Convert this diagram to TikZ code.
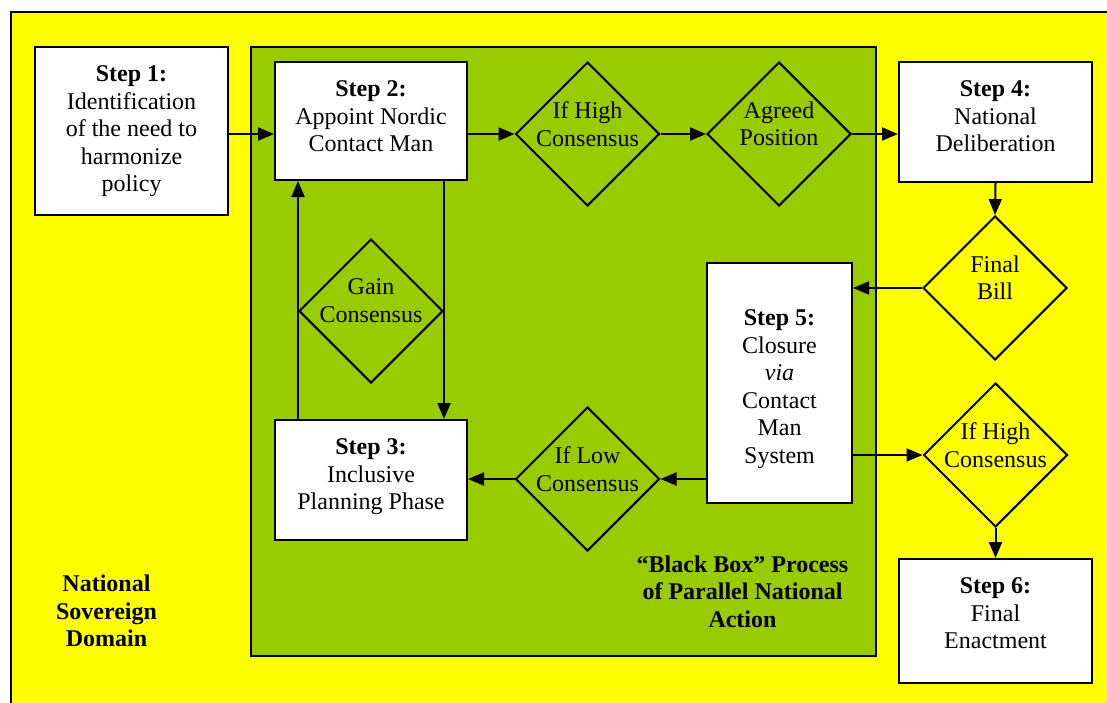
\documentclass[tikz,border=0pt]{standalone}
\usepackage{fontspec}
\setmainfont{Liberation Serif}
\usetikzlibrary{arrows.meta,shapes.geometric,calc}
\definecolor{bgyellow}{HTML}{FFFF00}
\definecolor{boxgreen}{HTML}{99CC00}
\begin{document}
\begin{tikzpicture}[x=1pt,y=-1pt,
  every node/.style={font=\fontsize{24}{27.5}\selectfont},
  stepbox/.style={draw, line width=2pt, fill=white, inner sep=0pt},
  decbox/.style={diamond, draw, line width=2pt, inner sep=0pt, minimum width=144pt, minimum height=144pt},
  txt/.style={align=center, inner sep=0pt, anchor=north},
  boldtxt/.style={align=center, inner sep=0pt, anchor=north, font=\fontsize{24}{27.5}\selectfont\bfseries},
  conn/.style={line width=2pt, -{Triangle[length=16pt,width=13pt]}}]
\useasboundingbox (0,0) rectangle (1107,702);
\clip (0,0) rectangle (1107,702);
% outer domain
\draw[line width=2pt, fill=bgyellow] (11,12) rectangle (1130,720);
% black box area
\node[draw, line width=2pt, fill=boxgreen, minimum width=625pt, minimum height=609pt, inner sep=0pt] (bb) at (563.5,351.5) {};
% step boxes
\node[stepbox, minimum width=193pt, minimum height=168pt] (s1) at (131.5,131) {};
\node[stepbox, minimum width=192pt, minimum height=118pt] (s2) at (371,121) {};
\node[stepbox, minimum width=193pt, minimum height=120pt] (s4) at (995.5,122) {};
\node[stepbox, minimum width=192pt, minimum height=120pt] (s3) at (371,480) {};
\node[stepbox, minimum width=145pt, minimum height=240pt] (s5) at (779.5,383) {};
\node[stepbox, minimum width=193pt, minimum height=124pt] (s6) at (995.5,621) {};
% decisions
\node[decbox] (h1) at (587.5,134) {};
\node[decbox] (ag) at (779,134) {};
\node[decbox] (gc) at (371,311) {};
\node[decbox] (lo) at (587.5,479) {};
\node[decbox] (fb) at (995,288) {};
\node[decbox] (h2) at (995.5,455) {};
% texts in step boxes
\node[txt] (t1) at ($(s1.north)+(0,19.8)$) {\textbf{Step 1:}\\Identification\\of the need to\\harmonize\\policy};
\node[txt] (t2) at ($(s2.north)+(0,19.8)$) {\textbf{Step 2:}\\Appoint Nordic\\Contact Man};
\node[txt] (t4) at ($(s4.north)+(0,19.8)$) {\textbf{Step 4:}\\National\\Deliberation};
\node[txt] (t3) at ($(s3.north)+(0,19.8)$) {\textbf{Step 3:}\\Inclusive\\Planning Phase};
\node[txt] (t5) at ($(s5.north)+(0,47.8)$) {\textbf{Step 5:}\\Closure\\\textit{via}\\Contact\\Man\\System};
\node[txt] (t6) at ($(s6.north)+(0,19.8)$) {\textbf{Step 6:}\\Final\\Enactment};
% texts in decisions
\node[txt] (th1) at ($(h1.center)+(0,-32.4)$) {If High\\Consensus};
\node[txt] (tag) at ($(ag.center)+(0,-32.4)$) {Agreed\\Position};
\node[txt] (tgc) at ($(gc.center)+(0,-32.4)$) {Gain\\Consensus};
\node[txt] (tlo) at ($(lo.center)+(0,-32.4)$) {If Low\\Consensus};
\node[txt] (tfb) at ($(fb.center)+(0,-32.4)$) {Final\\Bill};
\node[txt] (th2) at ($(h2.center)+(0,-32.4)$) {If High\\Consensus};
% area labels
\node[boldtxt] (bbl) at (742.5,555.5) {``Black Box'' Process\\of Parallel National\\Action};
\begin{scope}
\clip (0,0) rectangle (240,646.5);
\node[boldtxt] (nsd) at (106.5,574.8) {National\\Sovereign\\Domain};
\end{scope}
% connectors
\draw[conn] (s1.east |- h1) -- (s2.west |- h1);
\draw[conn] (s2.east |- h1) -- (h1.west);
\draw[conn] (h1.east) -- (ag.west);
\draw[conn] (ag.east) -- (s4.west |- ag);
\draw[conn] (s4.south) -- (fb.north);
\draw[conn] (fb.west) -- (s5.east |- fb);
\draw[conn] (s5.east |- h2) -- (h2.west);
\draw[conn] (h2.south) -- (s6.north);
\draw[conn] (s5.west |- lo) -- (lo.east);
\draw[conn] (lo.west) -- (s3.east |- lo);
\draw[conn] (gc.east |- s2.south) -- (gc.east |- s3.north);
\draw[conn] (gc.west |- s3.north) -- (gc.west |- s2.south);
\end{tikzpicture}
\end{document}
